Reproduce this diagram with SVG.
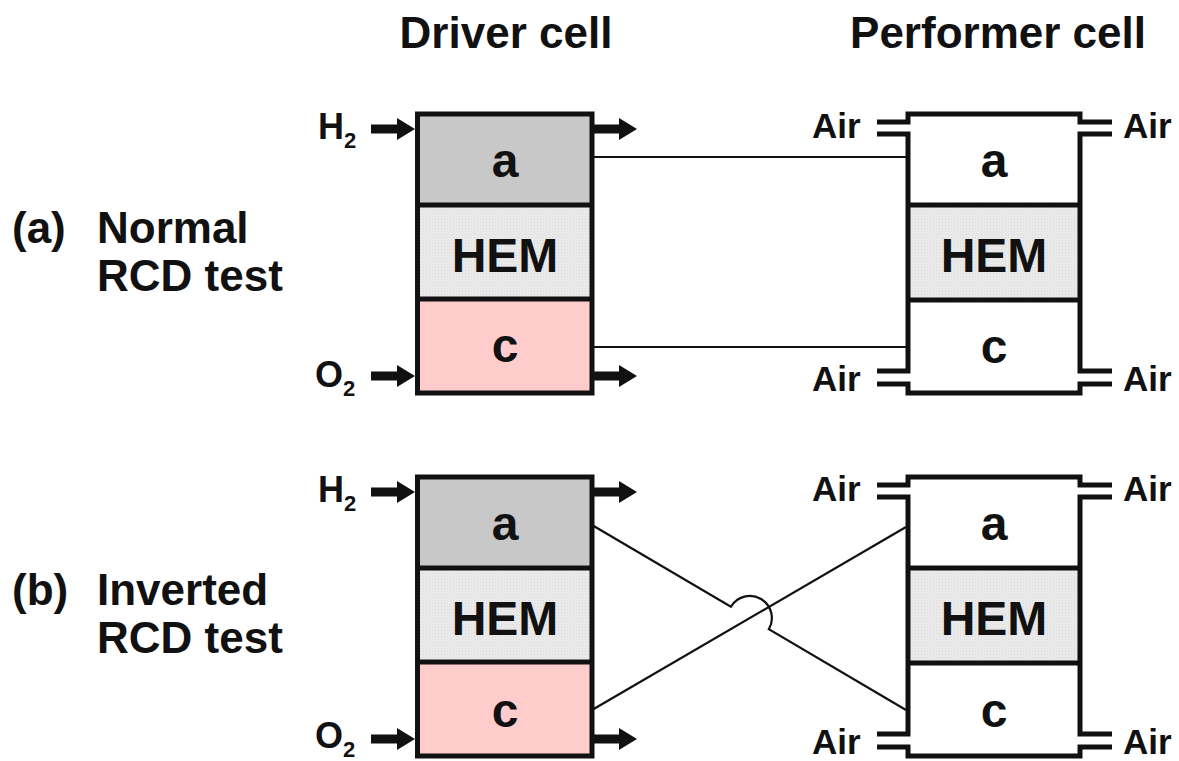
<svg xmlns="http://www.w3.org/2000/svg" xmlns:xlink="http://www.w3.org/1999/xlink" width="1179" height="761" viewBox="0 0 1179 761">
<style>
text{font-family:"Liberation Sans",Arial,sans-serif;font-weight:bold;fill:#111}
.title{font-size:44px}
.side{font-size:44px}
.cell{font-size:48px;text-anchor:middle}
.air{font-size:35px}
.gas{font-size:36px}
.sub{font-size:22px}
.frame{fill:none;stroke:#111;stroke-width:5}
.pframe{fill:none;stroke:#111;stroke-width:5;stroke-linejoin:miter}
.div{stroke:#111;stroke-width:5}
.wire{fill:none;stroke:#111;stroke-width:2.2}
.anode{fill:#c8c8c8}
.cath{fill:#ffcccc}
.hem{fill:url(#dots)}
.white{fill:#fff}
</style>
<defs>
<pattern id="dots" width="3" height="3" patternUnits="userSpaceOnUse">
<rect width="3" height="3" fill="#ececec"/>
<rect width="1" height="1" fill="#d6d6d6"/>
<rect x="1.5" y="1.5" width="1" height="1" fill="#dedede"/>
</pattern>
<path id="arr" d="M0,-4.5 H26 V-11 L44,0 L26,11 V4.5 H0 Z" fill="#111"/>
</defs>
<rect width="1179" height="761" fill="#fff"/>

<g id="titles">
<text class="title" x="506" y="48" text-anchor="middle">Driver cell</text>
<text class="title" x="998" y="48" text-anchor="middle">Performer cell</text>
</g>

<g id="label-a">
<text class="side" x="12" y="243">(a)</text>
<text class="side" x="97" y="243">Normal</text>
<text class="side" x="97" y="291">RCD test</text>
</g>
<g id="label-b">
<text class="side" x="12" y="605">(b)</text>
<text class="side" x="97" y="605">Inverted</text>
<text class="side" x="97" y="653">RCD test</text>
</g>

<g id="connectors">
<path class="wire" d="M592,157 H908"/>
<path class="wire" d="M592,347 H908"/>
<path class="wire" d="M592,525 L730.9,606.8 A22,22 0 0 1 768.8,629.2 L906,710"/>
<path class="wire" d="M592,710 L906,527"/>
</g>

<g id="driver-a">
<rect class="anode" x="417.5" y="114" width="174.5" height="91"/>
<rect class="hem" x="417.5" y="205" width="174.5" height="94"/>
<rect class="cath" x="417.5" y="299" width="174.5" height="94"/>
<line class="div" x1="417.5" y1="205" x2="592" y2="205"/>
<line class="div" x1="417.5" y1="299" x2="592" y2="299"/>
<rect class="frame" x="417.5" y="114" width="174.5" height="279"/>
<text class="cell" x="505" y="177">a</text>
<text class="cell" x="505" y="272">HEM</text>
<text class="cell" x="505" y="362">c</text>
<use xlink:href="#arr" x="371" y="129"/>
<use xlink:href="#arr" x="593" y="129"/>
<use xlink:href="#arr" x="371" y="376"/>
<use xlink:href="#arr" x="593" y="376"/>
<text class="gas" x="318" y="139">H<tspan class="sub" dy="9">2</tspan></text>
<text class="gas" x="315" y="387">O<tspan class="sub" dy="9">2</tspan></text>
</g>

<g id="performer-a">
<rect class="white" x="908" y="114" width="172" height="91"/>
<rect class="hem" x="908" y="205" width="172" height="95"/>
<rect class="white" x="908" y="300" width="172" height="93"/>
<line class="div" x1="908" y1="205" x2="1080" y2="205"/>
<line class="div" x1="908" y1="300" x2="1080" y2="300"/>
<path class="pframe" d="M877,122 H908 V114 H1080 V122 H1112 M1112,134 H1080 V371 H1112 M1112,384 H1080 V393 H908 V384 H877 M877,371 H908 V134 H877"/>
<text class="cell" x="994" y="177">a</text>
<text class="cell" x="994" y="272">HEM</text>
<text class="cell" x="994" y="363">c</text>
<text class="air" x="812" y="138">Air</text>
<text class="air" x="1123" y="138">Air</text>
<text class="air" x="812" y="391">Air</text>
<text class="air" x="1123" y="391">Air</text>
</g>

<g id="driver-b" transform="translate(0,363)">
<rect class="anode" x="417.5" y="114" width="174.5" height="91"/>
<rect class="hem" x="417.5" y="205" width="174.5" height="94"/>
<rect class="cath" x="417.5" y="299" width="174.5" height="94"/>
<line class="div" x1="417.5" y1="205" x2="592" y2="205"/>
<line class="div" x1="417.5" y1="299" x2="592" y2="299"/>
<rect class="frame" x="417.5" y="114" width="174.5" height="279"/>
<text class="cell" x="505" y="177">a</text>
<text class="cell" x="505" y="272">HEM</text>
<text class="cell" x="505" y="364">c</text>
<use xlink:href="#arr" x="371" y="129"/>
<use xlink:href="#arr" x="593" y="129"/>
<use xlink:href="#arr" x="371" y="376"/>
<use xlink:href="#arr" x="593" y="376"/>
<text class="gas" x="318" y="139">H<tspan class="sub" dy="9">2</tspan></text>
<text class="gas" x="315" y="385">O<tspan class="sub" dy="9">2</tspan></text>
</g>

<g id="performer-b" transform="translate(0,363)">
<rect class="white" x="908" y="114" width="172" height="91"/>
<rect class="hem" x="908" y="205" width="172" height="95"/>
<rect class="white" x="908" y="300" width="172" height="93"/>
<line class="div" x1="908" y1="205" x2="1080" y2="205"/>
<line class="div" x1="908" y1="300" x2="1080" y2="300"/>
<path class="pframe" d="M877,122 H908 V114 H1080 V122 H1112 M1112,134 H1080 V371 H1112 M1112,384 H1080 V393 H908 V384 H877 M877,371 H908 V134 H877"/>
<text class="cell" x="994" y="177">a</text>
<text class="cell" x="994" y="272">HEM</text>
<text class="cell" x="994" y="364">c</text>
<text class="air" x="812" y="138">Air</text>
<text class="air" x="1123" y="138">Air</text>
<text class="air" x="812" y="391">Air</text>
<text class="air" x="1123" y="391">Air</text>
</g>
</svg>
